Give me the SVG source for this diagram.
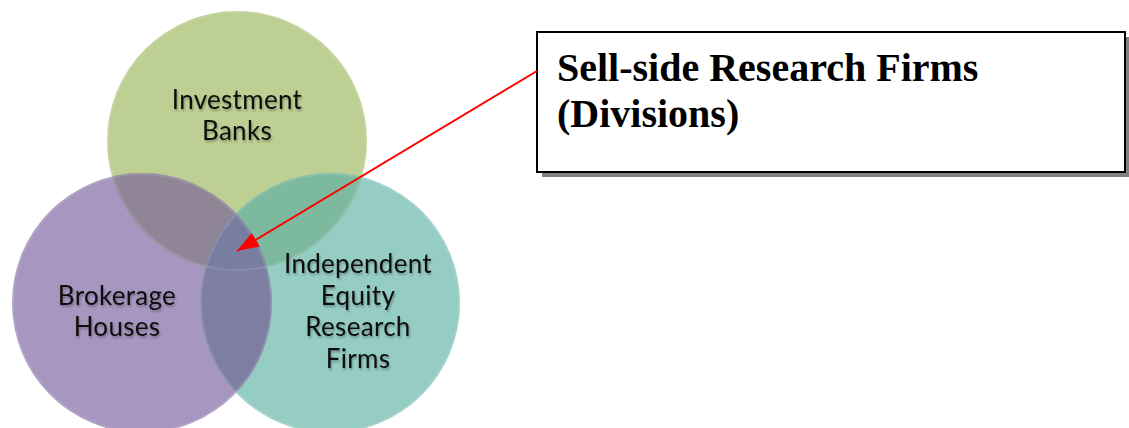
<svg xmlns="http://www.w3.org/2000/svg" width="1129" height="428" viewBox="0 0 1129 428">
<style>
.lbl{font-family:Lato,"Open Sans",sans-serif;font-size:26px;fill:#111;text-anchor:middle;letter-spacing:0.3px}
.box{fill:#fff;stroke:#000;stroke-width:2}
.shadow{fill:#808080}
.title{font-family:"Liberation Serif",serif;font-weight:bold;font-size:40px;fill:#000}
.edge{stroke:#ff0000;stroke-width:2;fill:none}
.rim{fill:none;stroke:#ffffff;stroke-opacity:0.12;stroke-width:2}
</style>
<defs>
<clipPath id="cG"><circle cx="237" cy="141" r="130"/></clipPath>
<clipPath id="cP"><circle cx="142" cy="303" r="130"/></clipPath>
<clipPath id="cT"><circle cx="330" cy="303" r="130"/></clipPath>
<marker id="ah" viewBox="0 0 10 10" refX="10" refY="5" markerWidth="22" markerHeight="16" markerUnits="userSpaceOnUse" orient="auto" preserveAspectRatio="none">
<path d="M0,0 L10,5 L0,10 z" fill="#ff0000"/>
</marker>
<filter id="ts" x="-10%" y="-20%" width="120%" height="140%">
<feGaussianBlur in="SourceAlpha" stdDeviation="1"/>
<feOffset dx="1" dy="1.5" result="b"/>
<feComponentTransfer><feFuncA type="linear" slope="0.3"/></feComponentTransfer>
<feMerge><feMergeNode/><feMergeNode in="SourceGraphic"/></feMerge>
</filter>
</defs>
<g id="investment-banks">
<circle cx="237" cy="141" r="130" fill="#bdcf92"/>
</g>
<g id="brokerage-houses">
<circle cx="142" cy="303" r="130" fill="#a796bf"/>
<circle cx="142" cy="303" r="130" fill="#8f8597" clip-path="url(#cG)"/>
</g>
<g id="independent-equity">
<circle cx="330" cy="303" r="130" fill="#95ccc4"/>
<circle cx="330" cy="303" r="130" fill="#7cb99e" clip-path="url(#cG)"/>
<circle cx="330" cy="303" r="130" fill="#7e7ea2" clip-path="url(#cP)"/>
<g clip-path="url(#cG)"><circle cx="330" cy="303" r="130" fill="#777ea0" clip-path="url(#cP)"/></g>
</g>
<g id="rims">
<circle class="rim" cx="237" cy="141" r="129"/>
<circle class="rim" cx="142" cy="303" r="129"/>
<circle class="rim" cx="330" cy="303" r="129"/>
</g>
<g id="labels" filter="url(#ts)">
<text class="lbl" x="237" y="109">Investment</text>
<text class="lbl" x="237" y="140">Banks</text>
<text class="lbl" x="117" y="305">Brokerage</text>
<text class="lbl" x="117" y="336">Houses</text>
<text class="lbl" x="358" y="273">Independent</text>
<text class="lbl" x="358" y="305">Equity</text>
<text class="lbl" x="358" y="336">Research</text>
<text class="lbl" x="358" y="368">Firms</text>
</g>
<g id="sell-side-box">
<rect class="shadow" x="542" y="37" width="588" height="140"/>
<rect class="box" x="537" y="32" width="588" height="140"/>
<text class="title" x="557" y="81">Sell-side Research Firms</text>
<text class="title" x="557" y="127">(Divisions)</text>
</g>
<g id="connectors">
<line class="edge" x1="537" y1="71" x2="237" y2="251" marker-end="url(#ah)"/>
</g>
</svg>
